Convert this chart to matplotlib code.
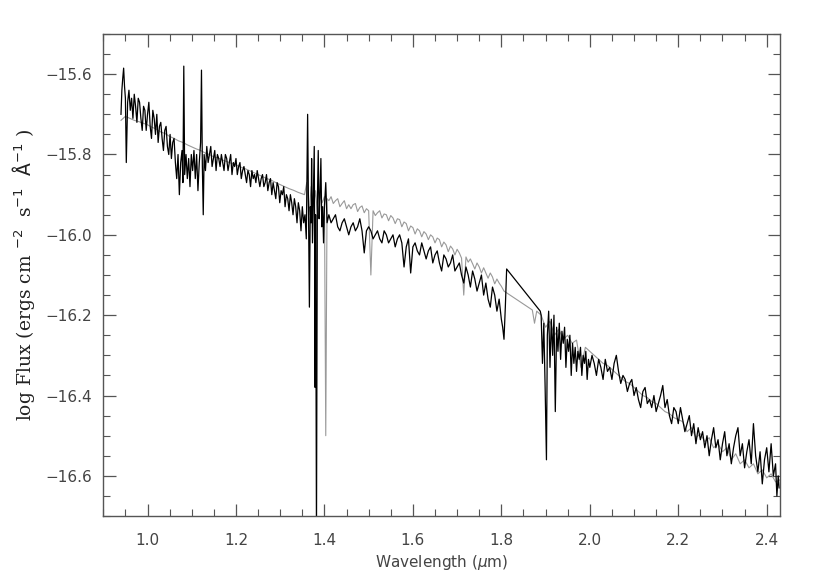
import numpy as np
import matplotlib.pyplot as plt
from matplotlib.ticker import MultipleLocator, FuncFormatter

# observed spectrum (black): wavelength in micron, log flux
obs_wave = [
    0.940, 0.942, 0.944, 0.946, 0.948, 0.950, 0.952, 0.955, 0.958, 0.961,
    0.964, 0.967, 0.970, 0.973, 0.976, 0.979, 0.982, 0.985, 0.988, 0.991,
    0.994, 0.997, 1.000, 1.003, 1.006, 1.009, 1.012, 1.015, 1.018, 1.021,
    1.024, 1.027, 1.030, 1.033, 1.036, 1.039, 1.042, 1.045, 1.048, 1.051,
    1.054, 1.057, 1.060, 1.063, 1.066, 1.069, 1.072, 1.075, 1.078, 1.080,
    1.082, 1.084, 1.087, 1.090, 1.093, 1.096, 1.099, 1.102, 1.105, 1.108,
    1.111, 1.114, 1.117, 1.120, 1.122, 1.124, 1.126, 1.128, 1.131, 1.134,
    1.137, 1.140, 1.143, 1.146, 1.149, 1.152, 1.155, 1.158, 1.161, 1.164,
    1.167, 1.170, 1.173, 1.176, 1.179, 1.182, 1.185, 1.188, 1.191, 1.194,
    1.197, 1.200, 1.203, 1.206, 1.209, 1.212, 1.215, 1.218, 1.221, 1.224,
    1.227, 1.230, 1.233, 1.236, 1.239, 1.242, 1.245, 1.248, 1.251, 1.254,
    1.257, 1.260, 1.263, 1.266, 1.269, 1.272, 1.275, 1.278, 1.281, 1.284,
    1.287, 1.290, 1.293, 1.296, 1.299, 1.302, 1.305, 1.308, 1.311, 1.314,
    1.317, 1.320, 1.323, 1.326, 1.329, 1.332, 1.335, 1.338, 1.341, 1.344,
    1.347, 1.350, 1.353, 1.356, 1.359, 1.362, 1.364, 1.366, 1.368, 1.370,
    1.371, 1.373, 1.375, 1.377, 1.379, 1.380, 1.382, 1.384, 1.386, 1.388,
    1.390, 1.392, 1.394, 1.396, 1.398, 1.400, 1.403, 1.406,
    1.410, 1.415, 1.420, 1.425, 1.430, 1.435, 1.440, 1.445, 1.450, 1.455,
    1.460, 1.465, 1.470, 1.475, 1.480, 1.485, 1.490, 1.495, 1.500, 1.505,
    1.510, 1.515, 1.520, 1.525, 1.530, 1.535, 1.540, 1.545, 1.550, 1.555,
    1.560, 1.565, 1.570, 1.575, 1.580, 1.585, 1.590, 1.595, 1.600, 1.605,
    1.610, 1.615, 1.620, 1.625, 1.630, 1.635, 1.640, 1.645, 1.650, 1.655,
    1.660, 1.665, 1.670, 1.675, 1.680, 1.685, 1.690, 1.695, 1.700, 1.705,
    1.710, 1.715, 1.720, 1.725, 1.730, 1.735, 1.740, 1.745, 1.750, 1.755,
    1.760, 1.765, 1.770, 1.775, 1.780, 1.785, 1.790, 1.795, 1.800, 1.803,
    1.806, 1.809, 1.812, 1.888,
    1.890, 1.893, 1.896, 1.899, 1.902, 1.904, 1.907, 1.910, 1.913, 1.916,
    1.919, 1.922, 1.925, 1.928, 1.931, 1.934, 1.937, 1.940, 1.943, 1.946,
    1.949, 1.952, 1.955, 1.958, 1.961, 1.964, 1.967, 1.970, 1.973, 1.976,
    1.979, 1.982, 1.985, 1.988, 1.991, 1.994, 1.997,
    2.000, 2.005, 2.010, 2.015, 2.020, 2.025, 2.030, 2.035, 2.040, 2.045,
    2.050, 2.055, 2.060, 2.065, 2.070, 2.075, 2.080, 2.085, 2.090, 2.095,
    2.100, 2.105, 2.110, 2.115, 2.120, 2.125, 2.130, 2.135, 2.140, 2.145,
    2.150, 2.155, 2.160, 2.165, 2.170, 2.175, 2.180, 2.185, 2.190, 2.195,
    2.200, 2.205, 2.210, 2.215, 2.220, 2.225, 2.230, 2.235, 2.240, 2.245,
    2.250, 2.255, 2.260, 2.265, 2.270, 2.275, 2.280, 2.285, 2.290, 2.295,
    2.300, 2.305, 2.310, 2.315, 2.320, 2.325, 2.330, 2.335, 2.340, 2.345,
    2.350, 2.355, 2.360, 2.365, 2.370, 2.375, 2.380, 2.385, 2.390, 2.395,
    2.400, 2.405, 2.410, 2.415, 2.420, 2.423, 2.426, 2.428,
]
obs_flux = [
    -15.70, -15.64, -15.61, -15.585, -15.63, -15.66, -15.82, -15.67, -15.64, -15.69,
    -15.66, -15.71, -15.65, -15.68, -15.72, -15.66, -15.67, -15.71, -15.74, -15.68,
    -15.69, -15.74, -15.70, -15.67, -15.73, -15.76, -15.69, -15.71, -15.75, -15.70,
    -15.77, -15.73, -15.72, -15.76, -15.79, -15.74, -15.73, -15.78, -15.80, -15.75,
    -15.81, -15.77, -15.76, -15.82, -15.86, -15.80, -15.90, -15.82, -15.79, -15.87,
    -15.58, -15.85, -15.80, -15.86, -15.81, -15.88, -15.80, -15.84, -15.79, -15.86,
    -15.80, -15.89, -15.82, -15.77, -15.59, -15.83, -15.95, -15.80, -15.84, -15.78,
    -15.82, -15.80, -15.78, -15.83, -15.81, -15.79, -15.84, -15.80, -15.81, -15.83,
    -15.80, -15.82, -15.84, -15.80, -15.81, -15.84, -15.82, -15.80, -15.85, -15.82,
    -15.83, -15.81, -15.85, -15.83, -15.82, -15.86, -15.84, -15.83, -15.85, -15.87,
    -15.84, -15.85, -15.88, -15.84, -15.86, -15.85, -15.87, -15.84, -15.86, -15.88,
    -15.86, -15.85, -15.88, -15.87, -15.85, -15.89, -15.87, -15.86, -15.90, -15.87,
    -15.89, -15.91, -15.87, -15.88, -15.92, -15.89, -15.90, -15.88, -15.93, -15.90,
    -15.91, -15.94, -15.90, -15.92, -15.95, -15.91, -15.93, -15.97, -15.92, -15.94,
    -15.99, -15.93, -15.97, -15.95, -16.01, -15.70, -15.95, -16.18, -15.93, -15.97,
    -15.81, -16.02, -15.90, -15.78, -16.38, -15.95, -16.75, -15.92, -15.79, -15.96,
    -15.90, -15.81, -15.98, -15.93, -16.02, -15.93, -15.87, -15.97,
    -15.95, -15.97, -15.96, -15.95, -15.98, -15.99, -15.97, -15.96, -15.98, -16.00,
    -15.98, -15.97, -15.99, -15.98, -15.96, -15.99, -16.045, -15.99, -15.98, -15.99,
    -16.01, -16.00, -15.99, -16.01, -16.02, -15.99, -16.00, -16.02, -16.01, -16.00,
    -16.03, -16.01, -16.00, -16.02, -16.08, -16.03, -16.01, -16.095, -16.03, -16.02,
    -16.04, -16.05, -16.02, -16.04, -16.06, -16.04, -16.03, -16.07, -16.05, -16.04,
    -16.07, -16.09, -16.05, -16.06, -16.08, -16.07, -16.05, -16.09, -16.08, -16.07,
    -16.10, -16.12, -16.08, -16.10, -16.13, -16.09, -16.11, -16.14, -16.12, -16.10,
    -16.15, -16.12, -16.16, -16.18, -16.13, -16.15, -16.19, -16.16, -16.21, -16.23,
    -16.26, -16.18, -16.085, -16.19,
    -16.20, -16.32, -16.22, -16.38, -16.56, -16.25, -16.19, -16.33, -16.21, -16.30,
    -16.20, -16.44, -16.23, -16.29, -16.22, -16.31, -16.24, -16.27, -16.23, -16.33,
    -16.26, -16.29, -16.25, -16.35, -16.27, -16.32, -16.28, -16.34, -16.29, -16.31,
    -16.28, -16.35, -16.30, -16.32, -16.29, -16.36, -16.31,
    -16.33, -16.30, -16.32, -16.35, -16.31, -16.33, -16.36, -16.31, -16.34, -16.33,
    -16.36, -16.32, -16.30, -16.34, -16.37, -16.35, -16.36, -16.39, -16.37, -16.36,
    -16.40, -16.38, -16.41, -16.43, -16.39, -16.38, -16.42, -16.41, -16.43, -16.40,
    -16.44, -16.42, -16.40, -16.375, -16.43, -16.41, -16.45, -16.47, -16.43, -16.44,
    -16.47, -16.43, -16.46, -16.49, -16.47, -16.45, -16.50, -16.47, -16.52, -16.48,
    -16.51, -16.49, -16.53, -16.50, -16.55, -16.51, -16.48, -16.53, -16.51, -16.56,
    -16.52, -16.49, -16.55, -16.52, -16.57, -16.53, -16.50, -16.48, -16.55, -16.52,
    -16.58, -16.54, -16.51, -16.57, -16.47, -16.55, -16.59, -16.54, -16.62, -16.56,
    -16.53, -16.59, -16.52, -16.60, -16.57, -16.65, -16.60, -16.63,
]

# comparison spectrum (grey)
ref_wave = [
    0.94, 0.95, 0.96, 0.97, 0.98, 0.99, 1.00, 1.01, 1.02, 1.03,
    1.04, 1.05, 1.06, 1.07, 1.08, 1.09, 1.10, 1.11, 1.12, 1.13,
    1.14, 1.15, 1.16, 1.17, 1.18, 1.19, 1.20, 1.21, 1.22, 1.23,
    1.24, 1.25, 1.26, 1.27, 1.28, 1.29, 1.30, 1.31, 1.32, 1.33,
    1.34, 1.35, 1.355, 1.360, 1.365, 1.370, 1.375, 1.380, 1.385, 1.390,
    1.395, 1.400, 1.403, 1.406,
    1.410, 1.415, 1.420, 1.425, 1.430, 1.435, 1.440, 1.445, 1.450, 1.455,
    1.460, 1.465, 1.470, 1.475, 1.480, 1.485, 1.490, 1.495, 1.500, 1.505,
    1.510, 1.515, 1.520, 1.525, 1.530, 1.535, 1.540, 1.545, 1.550, 1.555,
    1.560, 1.565, 1.570, 1.575, 1.580, 1.585, 1.590, 1.595, 1.600, 1.605,
    1.610, 1.615, 1.620, 1.625, 1.630, 1.635, 1.640, 1.645, 1.650, 1.655,
    1.660, 1.665, 1.670, 1.675, 1.680, 1.685, 1.690, 1.695, 1.700, 1.705,
    1.710, 1.715, 1.720, 1.725, 1.730, 1.735, 1.740, 1.745, 1.750, 1.755,
    1.760, 1.765, 1.770, 1.775, 1.780, 1.785, 1.790, 1.795, 1.800,
    1.806, 1.870, 1.875, 1.880,
    1.89, 1.90, 1.91, 1.92, 1.93, 1.94, 1.95, 1.96, 1.97, 1.98,
    1.99, 2.00, 2.01, 2.02, 2.03, 2.04, 2.05, 2.06, 2.07, 2.08,
    2.09, 2.10, 2.11, 2.12, 2.13, 2.14, 2.15, 2.16, 2.17, 2.18,
    2.19, 2.20, 2.21, 2.22, 2.23, 2.24, 2.25, 2.26, 2.27, 2.28,
    2.29, 2.30, 2.31, 2.32, 2.33, 2.34, 2.35, 2.36, 2.37, 2.38,
    2.39, 2.40, 2.41, 2.42, 2.43,
]
ref_flux = [
    -15.715, -15.705, -15.710, -15.715, -15.718, -15.722, -15.726, -15.732, -15.737, -15.744,
    -15.748, -15.755, -15.760, -15.766, -15.770, -15.776, -15.781, -15.786, -15.790, -15.796,
    -15.800, -15.806, -15.809, -15.814, -15.818, -15.822, -15.826, -15.831, -15.835, -15.840,
    -15.845, -15.850, -15.855, -15.860, -15.864, -15.870, -15.875, -15.880, -15.885, -15.889,
    -15.894, -15.898, -15.900, -15.870, -15.950, -15.880, -15.930, -15.890, -15.960, -15.900,
    -15.920, -15.905, -16.500, -15.910,
    -15.915, -15.905, -15.922, -15.915, -15.910, -15.930, -15.922, -15.915, -15.935, -15.925,
    -15.935, -15.925, -15.922, -15.942, -15.932, -15.928, -15.945, -15.935, -15.940, -16.100,
    -15.940, -15.952, -15.945, -15.940, -15.958, -15.948, -15.950, -15.965, -15.952, -15.958,
    -15.972, -15.960, -15.962, -15.980, -15.968, -15.972, -15.990, -15.978, -15.982, -15.998,
    -15.985, -15.990, -16.005, -15.992, -15.998, -16.012, -16.000, -16.005, -16.020, -16.008,
    -16.012, -16.030, -16.018, -16.025, -16.042, -16.028, -16.035, -16.050, -16.036, -16.045,
    -16.058, -16.150, -16.055, -16.068, -16.060, -16.072, -16.085, -16.070, -16.080, -16.095,
    -16.082, -16.095, -16.108, -16.095, -16.105, -16.122, -16.110, -16.120, -16.128,
    -16.140, -16.187, -16.220, -16.190,
    -16.200, -16.230, -16.215, -16.250, -16.235, -16.260, -16.250, -16.270, -16.262, -16.330,
    -16.280, -16.290, -16.300, -16.310, -16.320, -16.325, -16.335, -16.345, -16.355, -16.365,
    -16.370, -16.380, -16.390, -16.400, -16.405, -16.415, -16.420, -16.430, -16.440, -16.445,
    -16.455, -16.460, -16.465, -16.490, -16.480, -16.505, -16.495, -16.515, -16.505, -16.530,
    -16.520, -16.540, -16.530, -16.560, -16.545, -16.570, -16.560, -16.580, -16.570, -16.595,
    -16.585, -16.605, -16.595, -16.615, -16.610,
]


def tick_fmt(v, pos):
    return f'{v:.1f}'.replace('-', '\u2212')


fig = plt.figure(figsize=(8.31, 5.88), dpi=100)
ax = fig.add_axes([0.1243, 0.1224, 0.8143, 0.8198])

ax.plot(ref_wave, ref_flux, color='#999999', lw=0.8)
ax.plot(obs_wave, obs_flux, color='black', lw=0.9)

ax.set_xlim(0.9, 2.43)
ax.set_ylim(-16.7, -15.5)

ax.xaxis.set_major_locator(MultipleLocator(0.2))
ax.xaxis.set_minor_locator(MultipleLocator(0.05))
ax.yaxis.set_major_locator(MultipleLocator(0.2))
ax.yaxis.set_minor_locator(MultipleLocator(0.05))
ax.xaxis.set_major_formatter(FuncFormatter(tick_fmt))
ax.yaxis.set_major_formatter(FuncFormatter(tick_fmt))

ax.tick_params(which='both', direction='in', top=True, right=True,
               colors='#555555', labelcolor='#444444', labelsize=11)
ax.tick_params(which='major', length=9, width=0.9)
ax.tick_params(which='minor', length=5, width=0.8)
ax.tick_params(axis='x', pad=12)
ax.tick_params(axis='y', pad=8)
for s in ax.spines.values():
    s.set_color('#555555')
    s.set_linewidth(1.0)

ax.set_xlabel(r'Wavelength ($\mu$m)', fontsize=11, color='#444444', labelpad=4)
plt.rcParams['mathtext.fontset'] = 'dejavuserif'
ax.set_ylabel(r'log Flux (ergs cm $^{-2}$  s$^{-1}$  $\mathrm{\AA}^{-1}$ )',
              family='DejaVu Serif', fontsize=13.5, color='#222222', labelpad=6)

fig.savefig('out.png', dpi=100)
